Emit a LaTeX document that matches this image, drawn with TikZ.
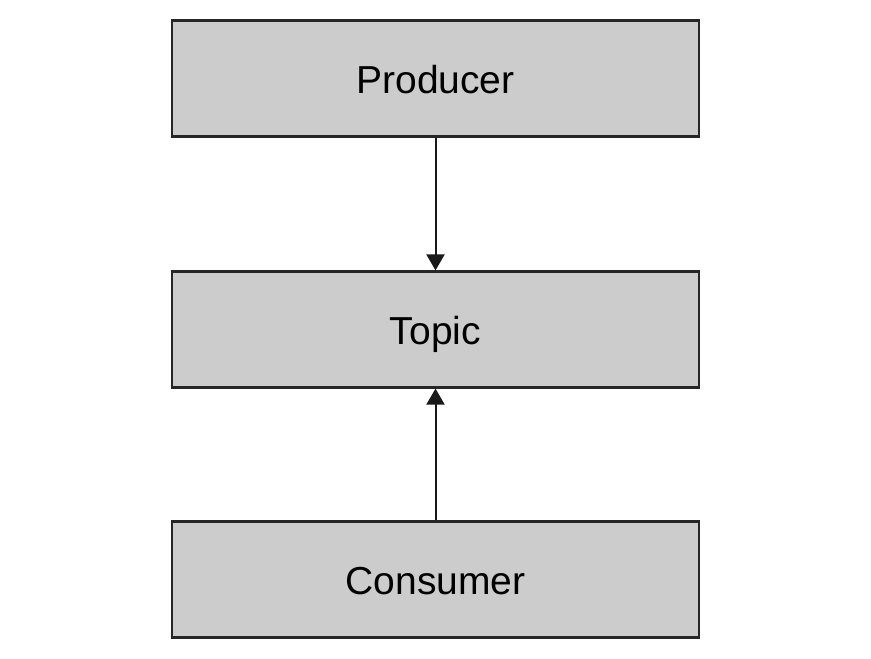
\documentclass[tikz,border=0pt]{standalone}
\usepackage{fontspec}
\setmainfont{Liberation Sans}
\usetikzlibrary{arrows.meta}
\tikzset{
  box/.style={draw=black!85, line width=2.2pt, fill=black!20, minimum width=527pt, minimum height=116pt, inner sep=0pt, font=\fontsize{39}{44}\selectfont, text height=30pt, text depth=0pt},
  link/.style={draw=black!90, line width=2pt, -{Triangle[length=16pt,width=18pt]}}
}
\begin{document}
\begin{tikzpicture}[x=1pt,y=1pt]
\useasboundingbox (0,0) rectangle (871,659);
\node[box] (prod) at (435.5,580.5) {Producer};
\node[box] (topic) at (435.5,329.5) {Topic};
\node[box] (cons) at (435.5,79.5) {Consumer};
\draw[link] (prod.south) -- (topic.north);
\draw[link] (cons.north) -- (topic.south);
\end{tikzpicture}
\end{document}
